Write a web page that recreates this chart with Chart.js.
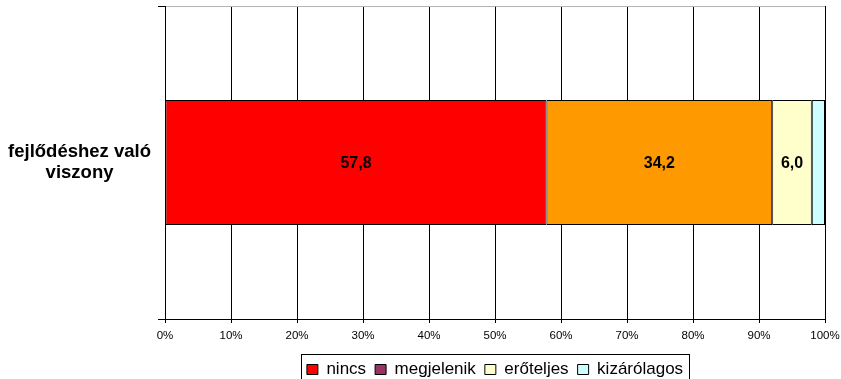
<!DOCTYPE html>
<html>
<head>
<meta charset="utf-8">
<script src="https://cdn.jsdelivr.net/npm/chart.js@4.4.1/dist/chart.umd.min.js"></script>
<style>
  html, body { margin: 0; padding: 0; background: #fff; }
  #wrap { width: 841px; height: 379px; position: relative; }
</style>
</head>
<body>
<div id="wrap"><canvas id="c" width="841" height="379"></canvas></div>
<script>
// Category and series
const categories = [['fejlődéshez való', 'viszony']];
const seriesNames = ['nincs', 'megjelenik', 'erőteljes', 'kizárólagos'];
const nincs = [57.8];
const megjelenik = [34.2];
const eroteljes = [6.0];
const kizarolagos = [2.0];
const seriesValues = [nincs, megjelenik, eroteljes, kizarolagos];
// Which segments carry a printed value
const showValue = [true, true, true, false];
const barColors = ['#FF0000', '#FF9900', '#FFFFCC', '#CCFFFF'];
const legendColors = ['#FF0000', '#993366', '#FFFFCC', '#CCFFFF'];
const tickLabels = ['0%', '10%', '20%', '30%', '40%', '50%', '60%', '70%', '80%', '90%', '100%'];

const datasets = seriesNames.map((name, i) => ({
  label: name,
  data: seriesValues[i],
  backgroundColor: barColors[i],
  borderColor: '#000',
  borderWidth: 1,
  borderSkipped: false,
  barPercentage: 0.4,
  categoryPercentage: 1.0
}));

// Prints the segment values (decimal comma) in the middle of each bar piece
const valueLabels = {
  id: 'valueLabels',
  afterDatasetsDraw(chart) {
    const ctx = chart.ctx;
    ctx.save();
    ctx.font = 'bold 16px "Liberation Sans", Arial, sans-serif';
    ctx.fillStyle = '#000';
    ctx.textAlign = 'center';
    ctx.textBaseline = 'middle';
    chart.data.datasets.forEach((ds, di) => {
      if (!showValue[di]) return;
      const meta = chart.getDatasetMeta(di);
      meta.data.forEach((bar, j) => {
        const v = ds.data[j];
        const cx = (bar.x + bar.base) / 2;
        ctx.fillText(v.toFixed(1).replace('.', ','), cx, bar.y + 1);
      });
    });
    ctx.restore();
  }
};

// Centres the legend under the plot area and frames it
const legendFrame = {
  id: 'legendFrame',
  afterLayout(chart) {
    const lg = chart.legend;
    if (!lg) return;
    const ca = chart.chartArea;
    const dx = (ca.left + ca.right) / 2 - (lg.left + lg.right) / 2;
    lg.left += dx;
    lg.right += dx;
    const dy = 352 - lg.top;
    lg.top += dy;
    lg.bottom += dy;
  },
  afterDraw(chart) {
    const lg = chart.legend;
    if (!lg || !lg.legendHitBoxes || !lg.legendHitBoxes.length) return;
    const hb = lg.legendHitBoxes;
    let l = Infinity, r = -Infinity;
    hb.forEach(b => { l = Math.min(l, b.left); r = Math.max(r, b.left + b.width); });
    const ctx = chart.ctx;
    ctx.save();
    ctx.strokeStyle = '#000';
    ctx.lineWidth = 1;
    ctx.strokeRect(Math.round(l - 6) + 0.5, 354.5, Math.round(r - l + 12), 40);
    ctx.restore();
  }
};

new Chart(document.getElementById('c'), {
  type: 'bar',
  data: { labels: categories, datasets: datasets },
  plugins: [valueLabels, legendFrame],
  options: {
    indexAxis: 'y',
    responsive: false,
    animation: false,
    layout: { padding: { top: 6, right: 16, left: 0, bottom: 0 } },
    scales: {
      x: {
        stacked: true,
        min: 0,
        max: 100,
        afterFit(scale) { scale.paddingLeft = 0; scale.paddingRight = 0; scale.height = 24; },
        ticks: {
          stepSize: 10,
          padding: 6,
          color: '#000',
          font: { family: '"Liberation Sans", Arial, sans-serif', size: 11.5 },
          callback: (v, i) => tickLabels[i]
        },
        grid: { color: '#000', lineWidth: 1, tickLength: 4, tickColor: '#000' },
        border: { color: '#000', width: 1 }
      },
      y: {
        stacked: true,
        afterFit(scale) { scale.width = 165; scale.paddingTop = 0; scale.paddingBottom = 0; },
        ticks: {
          crossAlign: 'center',
          padding: 7,
          color: '#000',
          font: { family: '"Liberation Sans", Arial, sans-serif', size: 18.5, weight: 'bold', lineHeight: 1.12 }
        },
        grid: {
          offset: true,
          color: (c) => (c.index === 0 ? '#b4b4b4' : '#000'),
          tickColor: '#000',
          tickLength: 7
        },
        border: { color: '#000', width: 1 }
      }
    },
    plugins: {
      title: { display: false },
      tooltip: { enabled: false },
      legend: {
        position: 'bottom',
        labels: {
          boxWidth: 11,
          boxHeight: 10,
          padding: 9,
          color: '#000',
          font: { family: '"Liberation Sans", Arial, sans-serif', size: 17 },
          generateLabels(chart) {
            return chart.data.datasets.map((ds, i) => ({
              text: ds.label,
              fillStyle: legendColors[i],
              strokeStyle: '#000',
              lineWidth: 1,
              hidden: false,
              datasetIndex: i
            }));
          }
        }
      }
    }
  }
});
</script>
</body>
</html>
